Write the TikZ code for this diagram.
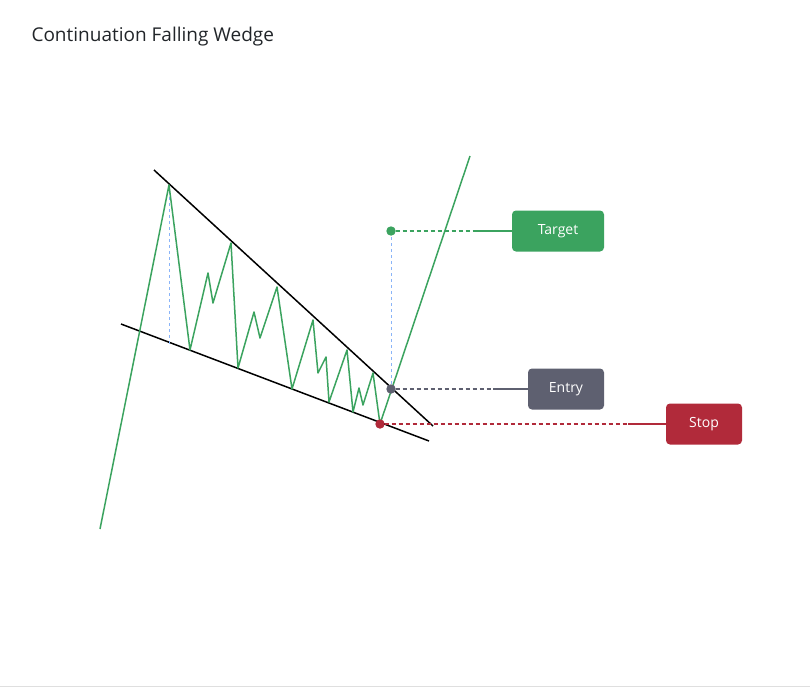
\documentclass[tikz,border=0pt]{standalone}
\usepackage{fontspec}
\setmainfont{Open Sans}
\definecolor{wedgegreen}{RGB}{59,163,95}
\definecolor{entrygray}{RGB}{94,96,112}
\definecolor{stopred}{RGB}{177,42,58}
\definecolor{guideblue}{RGB}{138,180,248}
\definecolor{titleink}{RGB}{33,37,41}
\tikzset{
    price/.style={wedgegreen, line width=1.5pt, line join=round},
    trend/.style={black, line width=1.5pt},
    guide/.style={guideblue, dashed, dash pattern=on 3pt off 3pt, line width=1pt},
    level/.style={dashed, dash pattern=on 4pt off 3pt, line width=1.3pt},
    tag/.style={rounded corners=4pt, text=white, font=\fontsize{14}{16}\selectfont, inner sep=0pt, minimum height=41pt},
    dot/.style={circle, draw, fill=white, line width=1.3pt, inner sep=0pt, minimum size=8pt}
}
\begin{document}
\begin{tikzpicture}[x=1pt, y=-1pt]
    \useasboundingbox (0,0) rectangle (810,688);
    \draw[gray!25] (0,686) -- (810,686);

    % Title
    \node[anchor=west, text=titleink, font=\fontsize{19}{22}\selectfont] (title) at (28,37) {Continuation Falling Wedge};

    % Wedge trend lines
    \draw[trend] (154,170) -- (433,426);
    \draw[trend] (121,324) -- (429,441);

    % Guides
    \draw[guide] (169,185) -- (169,345);
    \draw[guide] (391,231) -- (391,389);

    % Price path
    \draw[price] (100,529) -- (169,185) -- (190,350) -- (208,273) -- (213,303) -- (231,243)
        -- (238,368) -- (254,312) -- (260,338) -- (277,287) -- (292,389) -- (313,320)
        -- (318,373) -- (326,357) -- (329,402) -- (347,350) -- (353,412) -- (359,388)
        -- (363,405) -- (373,373) -- (380,424) -- (470,156);

    % Labels
    \node[tag, fill=wedgegreen, minimum width=92pt] (target) at (558,231) {Target};
    \node[tag, fill=entrygray, minimum width=76pt] (entry) at (566,389) {Entry};
    \node[tag, fill=stopred, minimum width=76pt] (stop) at (704,424) {Stop};

    \coordinate (targetend) at (477,231);
    \coordinate (entryend) at (493,389);
    \coordinate (stopend) at (628,424);

    \node[dot, wedgegreen] (targetpt) at (391,231) {};
    \node[dot, entrygray] (entrypt) at (391,389) {};
    \node[dot, stopred] (stoppt) at (380,424) {};

    \draw[level, wedgegreen] (targetpt) -- (targetend);
    \draw[wedgegreen, line width=1.3pt] (targetend) -- (target);
    \draw[level, entrygray] (entrypt) -- (entryend);
    \draw[entrygray, line width=1.3pt] (entryend) -- (entry);
    \draw[level, stopred] (stoppt) -- (stopend);
    \draw[stopred, line width=1.3pt] (stopend) -- (stop);
\end{tikzpicture}
\end{document}
